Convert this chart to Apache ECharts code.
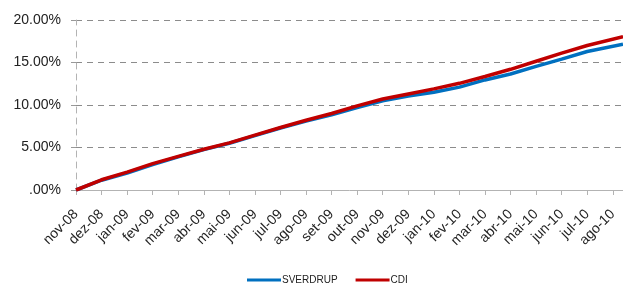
<!DOCTYPE html>
<html><head><meta charset="utf-8">
<script src="https://cdn.jsdelivr.net/npm/echarts@6/dist/echarts.min.js"></script>
<style>html,body{margin:0;padding:0;background:#fff}#c{width:623px;height:288px}</style>
</head><body><div id="c"></div>
<script>
var months = ['nov-08','dez-08','jan-09','fev-09','mar-09','abr-09','mai-09','jun-09','jul-09','ago-09','set-09','out-09','nov-09','dez-09','jan-10','fev-10','mar-10','abr-10','mai-10','jun-10','jul-10','ago-10'];
// x position in months since nov-08
var xPos = [0,1,2,3,4,5,6,7,8,9,10,11,12,13,14,15,16,17,18,19,20,21.4];
var sverdrup = [0,1.15,2.0,3.0,3.9,4.75,5.5,6.4,7.3,8.1,8.85,9.7,10.5,11.05,11.5,12.1,12.95,13.65,14.55,15.4,16.3,17.15];
var cdi = [0,1.2,2.1,3.1,3.95,4.8,5.55,6.45,7.35,8.2,9.0,9.9,10.7,11.3,11.9,12.55,13.35,14.2,15.15,16.1,17.0,18.05];
var yTicks = [0,5,10,15,20];

function pairs(v){return xPos.map(function(x,i){return [x,v[i]];});}
var tickIdx = months.map(function(m,i){return i;});
var chart = echarts.init(document.getElementById('c'));
chart.setOption({
  animation:false,
  textStyle:{fontFamily:'Liberation Sans, Arial, sans-serif'},
  grid:{left:76,right:0,top:20,bottom:98},
  legend:{
    top:270,left:242,
    itemWidth:34,itemHeight:3,itemGap:18,icon:'rect',
    textStyle:{fontSize:10,color:'#222',padding:[0,0,0,-4]},
    data:['SVERDRUP','CDI']
  },
  xAxis:{
    type:'value',min:0,max:21.4,interval:1,
    axisLine:{lineStyle:{color:'#b3b3b3',width:1}},
    axisTick:{show:true,length:5,lineStyle:{color:'#b3b3b3'},customValues:tickIdx},
    axisLabel:{rotate:45,margin:22,fontSize:14,color:'#222',customValues:tickIdx,
      formatter:function(v){return months[Math.round(v)]||'';}},
    splitLine:{show:false}
  },
  yAxis:{
    type:'value',min:0,max:20,interval:5,
    axisLine:{show:true,lineStyle:{color:'#b3b3b3',type:[6,5],width:1}},
    axisTick:{show:true,length:5,lineStyle:{color:'#999'}},
    axisLabel:{fontSize:14,color:'#222',margin:15,
      formatter:function(v){return v===0?'.00%':v.toFixed(2)+'%';}},
    splitLine:{show:true,lineStyle:{color:'#8c8c8c',type:[6,5],width:1}}
  },
  series:[
    {name:'SVERDRUP',type:'line',data:pairs(sverdrup),symbol:'none',smooth:false,
     color:'#0070C0',lineStyle:{width:3.5,color:'#0070C0'}},
    {name:'CDI',type:'line',data:pairs(cdi),symbol:'none',smooth:false,
     color:'#C00000',lineStyle:{width:3.5,color:'#C00000'}}
  ]
});
</script></body></html>
